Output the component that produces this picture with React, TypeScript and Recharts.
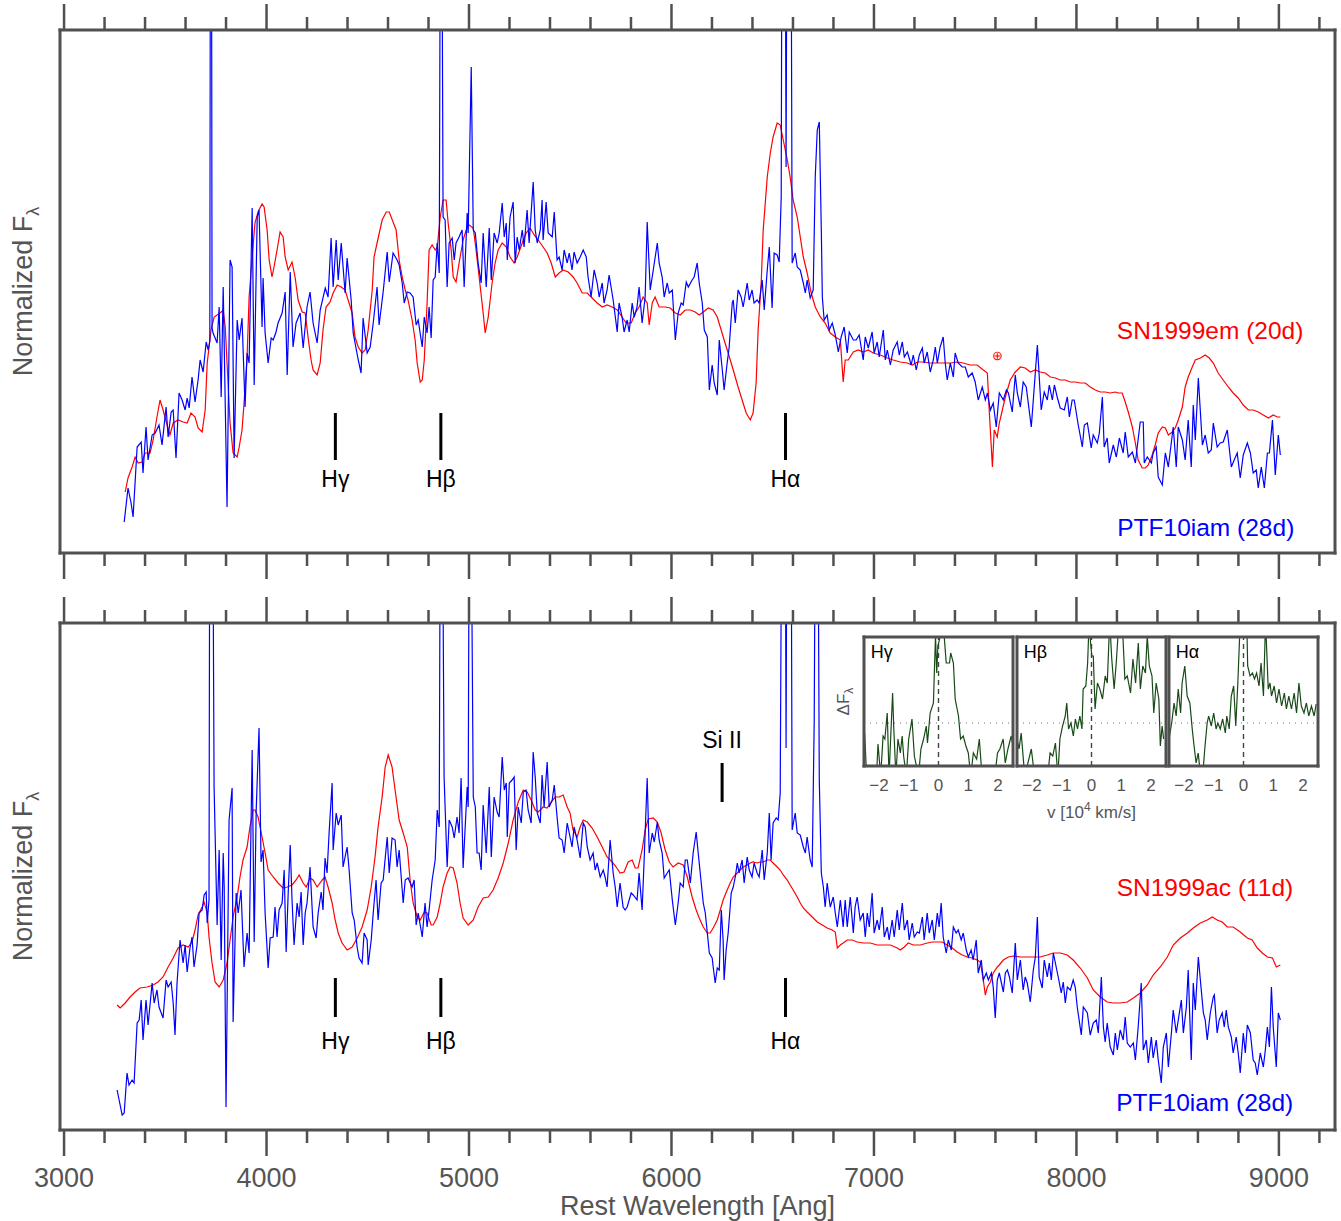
import React from 'react'
import { LineChart, Line, XAxis, YAxis, ReferenceLine, ReferenceDot } from 'recharts'

// wavelength [Ang] vs normalized flux (arbitrary units)
const ptfTop: [number, number][] = [
  [3297,31],[3316,65],[3331,50],[3341,36],[3361,106],[3381,111],[3390,80],[3405,126],[3415,93],[3435,118],[3450,120],[3469,128],[3484,108],[3504,146],[3514,116],[3529,141],[3539,143],[3553,95],[3568,160],[3583,153],[3598,143],[3608,155],[3618,145],[3632,176],[3647,151],[3662,173],[3672,193],[3687,181],[3702,211],[3712,203],[3720,212],[3723,700],[3728,700],[3731,225],[3736,220],[3756,210],[3766,246],[3776,156],[3786,266],[3805,46],[3820,293],[3830,286],[3840,95],[3855,233],[3865,213],[3879,235],[3894,146],[3904,200],[3914,190],[3929,345],[3939,168],[3954,336],[3963,343],[3978,226],[3983,275],[3993,220],[4008,190],[4023,215],[4033,213],[4047,221],[4057,230],[4077,240],[4092,261],[4102,178],[4117,281],[4131,206],[4146,230],[4166,240],[4181,205],[4200,246],[4215,261],[4230,230],[4250,210],[4265,243],[4290,265],[4304,256],[4319,315],[4329,266],[4344,313],[4354,273],[4369,310],[4388,260],[4398,295],[4418,253],[4428,220],[4453,193],[4467,180],[4477,235],[4497,200],[4512,206],[4527,230],[4546,266],[4556,228],[4576,261],[4596,301],[4606,271],[4625,300],[4645,293],[4655,288],
  [4670,270],[4680,250],[4695,261],[4709,260],[4724,256],[4739,228],[4749,233],[4769,206],[4779,236],[4793,220],[4803,246],[4813,215],[4823,273],[4833,276],[4843,310],[4853,280],[4859,700],[4865,700],[4872,336],[4882,333],[4892,266],[4902,310],[4917,315],[4927,293],[4936,310],[4951,316],[4966,323],[4976,266],[4991,340],[4996,320],[5011,486],[5021,323],[5031,320],[5045,290],[5060,270],[5070,320],[5085,266],[5100,325],[5110,273],[5124,320],[5139,310],[5149,320],[5164,350],[5174,316],[5184,330],[5189,293],[5203,336],[5218,351],[5228,290],[5238,316],[5248,303],[5263,323],[5272,306],[5287,343],[5297,310],[5317,371],[5327,323],[5337,310],[5352,323],[5361,353],[5366,313],[5381,351],[5391,320],[5411,316],[5421,341],[5435,293],[5445,296],[5460,283],[5470,303],[5485,290],[5495,300],[5509,283],[5519,301],[5534,290],[5549,296],[5564,303],[5579,296],[5588,276],[5603,256],[5618,283],[5633,270],[5643,256],[5658,270],[5667,250],[5682,263],[5692,278],[5712,253],[5732,221],[5741,250],[5756,236],[5766,221],[5781,233],[5791,221],[5806,250],[5816,236],[5830,246],[5840,266],[5855,230],[5870,256],[5880,331],[5895,263],[5910,283],[5930,310],[5939,290],[5954,276],[5964,256],[5979,270],[5989,260],[6004,263],[6019,213],[6033,240],[6048,250],[6058,248],[6073,271],[6083,266],[6102,273],[6112,276],[6127,290],[6137,270],
  [6152,250],[6162,223],[6177,216],[6187,163],[6201,188],[6211,170],[6226,158],[6236,213],[6251,183],[6260,163],[6275,190],[6285,206],[6300,250],[6305,253],[6315,230],[6329,263],[6344,256],[6354,246],[6374,270],[6384,253],[6398,263],[6408,250],[6423,253],[6433,250],[6448,273],[6458,243],[6473,283],[6483,306],[6497,245],[6507,300],[6522,298],[6532,291],[6542,356],[6546,700],[6561,700],[6566,386],[6571,700],[6590,700],[6596,290],[6611,300],[6621,286],[6636,283],[6651,270],[6661,260],[6670,273],[6685,255],[6700,263],[6710,376],[6720,423],[6730,431],[6740,323],[6745,256],[6754,233],[6769,238],[6779,223],[6794,230],[6809,218],[6824,201],[6838,216],[6853,226],[6868,200],[6878,221],[6898,213],[6912,213],[6927,218],[6947,193],[6957,216],[6972,205],[6991,221],[7001,200],[7016,211],[7026,196],[7046,223],[7056,193],[7066,203],[7081,188],[7095,203],[7115,211],[7125,198],[7140,211],[7150,196],[7165,201],[7184,188],[7194,198],[7209,183],[7224,198],[7239,205],[7248,190],[7263,201],[7278,181],[7293,193],[7303,206],[7313,190],[7327,206],[7342,216],[7352,190],[7362,173],[7377,190],[7392,176],[7401,200],[7416,190],[7436,186],[7451,186],[7466,176],[7485,180],[7500,171],[7515,153],[7535,166],[7550,153],[7560,160],[7575,143],[7589,150],[7604,126],[7619,160],
  [7639,153],[7654,163],[7664,160],[7683,141],[7698,178],[7708,160],[7723,146],[7737,171],[7752,166],[7777,126],[7787,153],[7807,208],[7826,143],[7841,161],[7856,153],[7866,168],[7881,153],[7891,168],[7905,156],[7920,145],[7940,143],[7955,156],[7965,136],[7979,153],[7989,153],[8009,128],[8029,106],[8039,128],[8054,130],[8073,105],[8083,118],[8103,110],[8113,120],[8128,156],[8137,106],[8152,115],[8162,90],[8182,108],[8197,96],[8212,115],[8231,100],[8241,121],[8256,96],[8276,101],[8291,90],[8315,131],[8330,131],[8335,90],[8350,96],[8370,90],[8379,100],[8394,106],[8404,76],[8424,68],[8439,100],[8454,86],[8478,126],[8493,86],[8503,126],[8523,113],[8537,93],[8552,133],[8567,86],[8577,148],[8587,113],[8602,175],[8622,108],[8636,118],[8651,100],[8666,103],[8676,130],[8695,106],[8710,110],[8725,111],[8745,123],[8765,86],[8779,93],[8794,100],[8809,75],[8824,98],[8844,110],[8859,100],[8873,80],[8888,83],[8898,65],[8913,86],[8928,65],[8943,100],[8953,100],[8968,133],[8982,78],[8997,118],[9007,98],
]

const sn1999em: [number, number][] = [
  [3302,61],[3316,75],[3336,86],[3351,96],[3366,90],[3385,91],[3400,100],[3425,100],[3440,113],[3459,136],[3474,153],[3489,143],[3509,128],[3523,118],[3539,130],[3563,133],[3588,131],[3608,130],[3627,140],[3647,136],[3662,125],[3682,121],[3697,143],[3707,190],[3726,223],[3741,236],[3756,238],[3776,241],[3786,243],[3796,226],[3805,190],[3820,130],[3835,100],[3855,96],[3865,106],[3879,123],[3889,150],[3904,196],[3914,256],[3929,296],[3943,330],[3958,341],[3978,349],[3988,346],[4003,323],[4013,293],[4027,276],[4037,286],[4052,303],[4067,321],[4082,316],[4092,296],[4107,283],[4126,291],[4141,276],[4156,253],[4176,241],[4191,240],[4205,216],[4220,193],[4230,183],[4250,178],[4265,190],[4279,223],[4294,246],[4314,251],[4329,260],[4349,268],[4369,266],[4388,263],[4403,253],[4423,240],[4437,216],[4453,206],[4472,200],[4487,203],[4502,223],[4522,263],[4531,296],[4546,310],[4571,333],[4591,341],[4606,341],[4625,331],[4640,323],[4655,293],
  [4670,276],[4685,263],[4699,253],[4719,233],[4734,213],[4744,190],[4759,171],[4769,173],[4779,193],[4793,250],[4803,303],[4818,308],[4833,303],[4843,306],[4858,336],[4872,353],[4887,353],[4897,330],[4912,303],[4922,276],[4936,271],[4951,290],[4971,313],[4986,323],[5001,328],[5021,325],[5035,303],[5050,276],[5070,240],[5080,220],[5095,236],[5114,270],[5129,290],[5144,303],[5164,310],[5184,306],[5203,296],[5223,290],[5238,296],[5263,310],[5282,320],[5302,325],[5322,318],[5342,313],[5366,306],[5386,300],[5406,290],[5426,276],[5445,280],[5465,283],[5490,281],[5514,276],[5534,270],[5559,260],[5584,260],[5608,255],[5633,250],[5658,246],[5682,248],[5707,246],[5732,243],[5756,236],[5776,230],[5801,230],[5821,240],[5840,246],[5860,256],[5880,250],[5890,228],[5905,250],[5919,256],[5939,246],[5969,246],[5994,245],[6019,240],[6043,238],[6068,243],[6093,243],[6117,241],[6137,238],
  [6157,241],[6182,245],[6206,243],[6226,236],[6241,226],[6260,213],[6280,200],[6305,183],[6329,166],[6349,153],[6369,140],[6389,133],[6403,140],[6418,170],[6428,223],[6443,270],[6453,323],[6473,376],[6488,400],[6502,416],[6522,430],[6537,428],[6552,413],[6572,393],[6586,376],[6601,353],[6621,336],[6636,316],[6651,296],[6670,280],[6690,260],[6710,246],[6735,236],[6759,230],[6784,220],[6809,216],[6834,213],[6848,171],[6858,193],[6873,193],[6898,201],[6922,203],[6947,201],[6972,203],[6996,200],[7031,198],[7066,195],[7095,193],[7130,191],[7165,190],[7189,188],[7214,191],[7243,191],[7278,190],[7313,190],[7342,190],[7377,190],[7411,191],[7441,190],[7475,188],[7510,188],[7540,183],[7560,180],[7570,140],[7585,86],[7594,123],[7609,116],[7619,130],
  [7649,156],[7673,173],[7698,181],[7723,186],[7747,185],[7772,181],[7797,183],[7821,181],[7846,180],[7871,176],[7896,175],[7920,173],[7945,173],[7970,171],[7994,171],[8019,170],[8044,170],[8068,166],[8093,163],[8118,161],[8142,161],[8167,160],[8192,161],[8207,160],[8226,160],[8241,151],[8256,141],[8276,126],[8291,110],[8305,93],[8325,85],[8340,85],[8355,88],[8374,98],[8389,108],[8404,120],[8424,126],[8439,125],[8454,118],[8473,121],[8488,125],[8503,133],[8523,146],[8537,166],[8552,176],[8572,186],[8587,193],[8612,195],[8636,198],[8656,195],[8676,190],[8700,180],[8725,173],[8750,166],[8774,160],[8799,155],[8824,148],[8849,143],[8873,143],[8898,141],[8923,138],[8948,135],[8972,138],[8992,136],[9007,136],
]

const ptfBottom: [number, number][] = [
  [3262,40],[3272,30],[3287,15],[3297,17],[3311,57],[3321,45],[3336,50],[3346,47],[3361,107],[3371,110],[3381,130],[3390,90],[3405,130],[3415,105],[3435,147],[3445,127],[3459,140],[3469,123],[3489,112],[3504,150],[3514,143],[3529,148],[3539,127],[3548,95],[3558,147],[3573,190],[3588,167],[3598,185],[3608,158],[3622,182],[3632,193],[3642,163],[3657,185],[3667,217],[3682,220],[3692,235],[3702,238],[3707,207],[3716,230],[3720,700],[3733,700],[3741,343],[3756,205],[3766,280],[3776,170],[3786,277],[3791,243],[3800,23],[3815,310],[3830,342],[3835,108],[3850,237],[3860,217],[3874,240],[3889,163],[3904,197],[3914,177],[3929,380],[3939,188],[3949,320],[3963,402],[3973,268],[3983,280],[3993,217],[4008,162],[4018,192],[4033,193],[4042,223],[4052,193],[4062,220],[4077,227],[4087,260],[4097,178],[4107,237],[4117,285],[4126,230],[4136,185],[4151,227],[4161,213],[4171,238],[4181,185],[4191,217],[4200,227],[4215,263],[4230,203],[4245,192],[4255,217],[4270,238],[4279,220],[4289,272],[4299,257],[4309,297],[4324,347],[4329,280],[4344,317],[4354,305],[4369,315],[4378,263],[4398,283],[4408,260],[4423,217],[4433,210],[4448,182],[4457,172],[4472,167],[4482,197],[4497,190],[4502,165],[4517,190],[4527,217],[4541,250],[4551,210],[4566,247],[4576,250],[4596,293],[4606,257],[4620,292],[4635,290],[4645,263],[4655,280],
  [4675,227],[4685,250],[4699,252],[4719,243],[4729,250],[4739,205],[4749,217],[4769,193],[4783,227],[4793,203],[4803,220],[4818,250],[4833,270],[4843,320],[4853,303],[4859,700],[4867,700],[4877,353],[4892,263],[4902,310],[4917,303],[4927,292],[4941,313],[4951,297],[4961,352],[4971,262],[4991,343],[4996,323],[5002,700],[5008,700],[5021,333],[5031,323],[5040,277],[5050,277],[5060,260],[5070,325],[5085,277],[5100,343],[5110,273],[5124,333],[5139,318],[5149,313],[5164,373],[5174,340],[5184,347],[5189,293],[5199,347],[5213,350],[5223,353],[5233,280],[5243,323],[5258,307],[5268,338],[5282,340],[5292,320],[5307,307],[5317,378],[5327,353],[5337,317],[5352,307],[5361,355],[5371,323],[5386,368],[5396,323],[5411,330],[5421,345],[5435,313],[5445,292],[5460,290],[5470,277],[5485,307],[5495,297],[5509,283],[5519,303],[5534,290],[5549,272],[5564,307],[5574,303],[5584,283],[5598,270],[5613,277],[5623,260],[5633,267],[5648,253],[5663,260],[5672,253],[5682,243],[5697,290],[5712,257],[5722,243],[5732,223],[5746,247],[5761,223],[5771,220],[5781,223],[5801,237],[5811,235],[5830,230],[5840,257],[5855,220],[5865,270],[5880,352],[5890,277],[5905,297],[5915,288],[5930,308],[5939,290],[5954,277],[5964,252],[5979,257],[5989,260],[6004,230],[6019,205],[6033,227],[6043,247],[6058,243],[6068,270],[6078,270],[6093,247],[6107,277],[6122,298],[6132,277],
  [6142,257],[6157,227],[6167,217],[6177,197],[6187,177],[6201,172],[6206,163],[6216,147],[6226,162],[6236,160],[6246,220],[6255,190],[6260,150],[6270,180],[6280,197],[6295,237],[6305,243],[6315,253],[6325,267],[6334,257],[6349,270],[6359,247],[6374,273],[6384,260],[6398,253],[6408,267],[6423,257],[6433,253],[6448,280],[6458,250],[6473,277],[6483,317],[6492,270],[6502,307],[6517,312],[6527,310],[6537,337],[6546,700],[6561,700],[6566,382],[6571,700],[6590,700],[6596,300],[6611,317],[6621,297],[6636,295],[6651,283],[6661,277],[6670,293],[6685,270],[6695,263],[6705,410],[6712,700],[6722,700],[6730,350],[6740,257],[6750,243],[6759,223],[6769,247],[6784,223],[6799,233],[6809,217],[6819,203],[6834,230],[6848,203],[6858,230],[6868,203],[6883,233],[6898,197],[6907,223],[6917,233],[6932,210],[6947,217],[6957,193],[6967,217],[6977,203],[6991,237],[7001,197],[7016,210],[7026,200],[7041,223],[7051,193],[7066,203],[7075,190],[7090,210],[7100,193],[7115,220],[7125,200],[7140,227],[7150,200],[7165,210],[7174,190],[7189,207],[7199,193],[7214,198],[7224,197],[7239,213],[7248,190],[7263,217],[7273,197],[7288,210],[7298,190],[7313,217],[7322,203],[7332,227],[7342,193],[7357,177],[7367,190],[7382,180],[7392,203],[7406,197],[7416,200],[7431,190],[7441,197],[7456,180],[7466,173],[7480,180],[7490,170],[7505,190],[7515,157],[7530,170],[7540,150],[7555,157],[7565,150],[7580,157],[7589,143],[7599,112],[7609,150],[7619,157],
  [7639,138],[7649,157],[7659,160],[7669,153],[7683,137],[7698,187],[7708,150],[7723,170],[7737,140],[7747,153],[7757,147],[7772,128],[7787,160],[7797,173],[7807,213],[7816,153],[7831,142],[7841,170],[7856,153],[7866,167],[7876,150],[7886,177],[7900,163],[7910,153],[7925,137],[7935,148],[7945,127],[7955,143],[7970,140],[7984,150],[7994,143],[8004,123],[8024,95],[8034,123],[8054,117],[8068,95],[8083,107],[8098,110],[8108,97],[8123,153],[8133,103],[8142,88],[8152,107],[8167,83],[8182,75],[8192,97],[8202,80],[8216,100],[8231,90],[8241,113],[8251,87],[8266,83],[8281,87],[8291,70],[8305,103],[8320,147],[8330,80],[8345,90],[8355,67],[8370,93],[8379,72],[8394,90],[8404,70],[8419,47],[8429,83],[8444,97],[8454,63],[8469,97],[8478,120],[8493,97],[8503,110],[8518,130],[8528,97],[8543,123],[8552,160],[8567,70],[8577,147],[8587,120],[8602,173],[8612,150],[8627,117],[8636,110],[8646,90],[8661,117],[8676,133],[8681,135],[8695,97],[8705,110],[8720,117],[8730,103],[8740,120],[8750,103],[8765,93],[8774,77],[8789,93],[8799,77],[8809,57],[8824,97],[8834,77],[8844,105],[8859,97],[8873,70],[8883,67],[8893,55],[8908,77],[8923,63],[8933,80],[8943,103],[8953,83],[8963,143],[8972,103],[8987,63],[8997,117],[9007,110],
]

const sn1999ac: [number, number][] = [
  [3262,125],[3277,122],[3302,127],[3326,133],[3351,138],[3375,142],[3410,143],[3440,145],[3464,148],[3489,153],[3514,163],[3539,172],[3563,182],[3588,185],[3613,183],[3632,188],[3647,200],[3662,215],[3682,223],[3692,228],[3707,217],[3716,193],[3731,167],[3746,148],[3766,143],[3786,150],[3805,167],[3820,190],[3835,213],[3855,233],[3869,253],[3884,270],[3904,283],[3918,303],[3934,320],[3943,320],[3958,313],[3978,293],[3993,277],[4008,260],[4033,253],[4057,247],[4082,242],[4102,243],[4126,245],[4146,250],[4161,255],[4181,247],[4196,243],[4215,252],[4230,250],[4250,243],[4275,250],[4289,253],[4304,243],[4324,227],[4339,210],[4354,197],[4373,187],[4398,180],[4423,183],[4448,192],[4472,203],[4497,220],[4517,243],[4536,273],[4551,303],[4571,333],[4586,363],[4601,375],[4620,363],[4635,340],[4655,310],
  [4675,297],[4695,283],[4709,250],[4724,227],[4744,213],[4759,210],[4779,218],[4793,217],[4813,205],[4823,205],[4843,213],[4858,227],[4872,243],[4892,257],[4907,263],[4922,262],[4941,247],[4956,227],[4971,212],[4996,205],[5021,210],[5045,223],[5070,232],[5095,233],[5119,240],[5144,252],[5169,267],[5194,287],[5218,310],[5243,328],[5268,340],[5287,338],[5307,330],[5327,320],[5342,318],[5366,323],[5386,322],[5406,328],[5426,333],[5445,333],[5465,335],[5485,323],[5499,317],[5514,300],[5534,293],[5549,303],[5564,310],[5584,308],[5608,302],[5633,293],[5658,283],[5682,273],[5707,268],[5727,263],[5746,257],[5766,258],[5786,268],[5806,270],[5821,262],[5835,262],[5855,280],[5870,300],[5885,311],[5910,312],[5930,308],[5949,297],[5969,280],[5989,268],[6008,263],[6033,267],[6058,265],[6078,253],[6102,233],[6122,220],[6137,212],
  [6157,203],[6177,197],[6191,197],[6206,202],[6226,210],[6241,220],[6255,230],[6275,240],[6290,247],[6305,253],[6325,257],[6339,260],[6354,263],[6374,265],[6389,267],[6403,268],[6423,267],[6438,268],[6453,268],[6473,270],[6488,270],[6502,267],[6522,263],[6537,260],[6552,255],[6572,250],[6586,245],[6601,240],[6621,233],[6636,227],[6651,222],[6670,218],[6695,213],[6720,208],[6745,205],[6769,202],[6794,200],[6809,198],[6819,182],[6834,185],[6848,187],[6868,190],[6893,190],[6917,188],[6947,187],[6982,187],[7016,185],[7046,185],[7081,185],[7115,182],[7130,180],[7150,183],[7169,187],[7194,185],[7229,185],[7263,187],[7288,188],[7313,188],[7337,188],[7362,185],[7387,182],[7411,178],[7436,175],[7461,173],[7485,172],[7510,170],[7525,168],[7540,150],[7550,135],[7560,143],[7575,148],[7589,157],[7609,163],[7619,165],
  [7639,170],[7664,173],[7688,174],[7723,173],[7757,173],[7787,173],[7821,173],[7856,175],[7886,177],[7920,177],[7955,175],[7984,170],[8019,162],[8054,152],[8083,140],[8118,133],[8152,128],[8182,127],[8216,127],[8251,128],[8281,132],[8315,137],[8350,145],[8379,155],[8414,163],[8449,173],[8478,185],[8513,192],[8548,197],[8577,202],[8612,207],[8646,210],[8671,213],[8695,210],[8720,208],[8745,203],[8774,203],[8809,198],[8844,192],[8868,190],[8893,182],[8918,177],[8943,173],[8968,172],[8987,163],[9007,165],
]

// inset: residual flux vs velocity [10^4 km/s]
const insetHg: [number, number][] = [
  [-2.48,33],[-2.41,-10],[-2.08,-10],[-2.03,22],[-1.94,-10],[-1.86,30],[-1.8,27],[-1.72,53],[-1.66,-10],[-1.54,73],[-1.5,37],[-1.43,-10],[-1.36,27],[-1.28,13],[-1.22,30],[-1.17,10],[-1.08,-10],[-1.0,27],[-0.89,47],[-0.81,10],[-0.67,-10],[-0.59,17],[-0.5,27],[-0.41,40],[-0.37,23],[-0.28,53],[-0.17,63],[-0.13,103],[-0.1,130],[-0.06,93],[-0.02,120],[0.06,130],[0.11,145],[0.19,130],[0.26,103],[0.37,103],[0.41,113],[0.5,103],[0.56,67],[0.67,50],[0.74,27],[0.83,30],[0.92,20],[1.0,13],[1.08,-10],[1.17,13],[1.28,7],[1.37,27],[1.46,-10],[1.89,-10],[1.98,13],[2.06,17],[2.17,27],[2.24,3],[2.33,17],[2.44,30],[2.5,20],
]
const insetHb: [number, number][] = [
  [-2.5,27],[-2.43,17],[-2.36,33],[-2.24,-10],[-2.02,17],[-1.91,-10],[-1.47,-10],[-1.39,13],[-1.3,10],[-1.21,23],[-1.13,-10],[-1.06,27],[-0.97,40],[-0.88,50],[-0.83,63],[-0.77,37],[-0.69,43],[-0.61,30],[-0.54,47],[-0.47,37],[-0.39,50],[-0.32,37],[-0.28,77],[-0.19,80],[-0.13,103],[-0.08,145],[-0.03,123],[0.01,110],[0.06,110],[0.12,57],[0.2,83],[0.28,77],[0.37,67],[0.46,90],[0.53,83],[0.61,145],[0.68,107],[0.76,77],[0.83,103],[0.92,145],[1.03,145],[1.12,87],[1.2,90],[1.31,73],[1.39,107],[1.48,83],[1.57,123],[1.64,77],[1.72,100],[1.81,93],[1.87,130],[1.94,100],[2.03,90],[2.09,53],[2.17,83],[2.26,67],[2.31,20],[2.37,40],[2.42,27],
]
const insetHa: [number, number][] = [
  [-2.5,27],[-2.41,43],[-2.33,63],[-2.26,50],[-2.19,77],[-2.11,53],[-2.06,83],[-1.97,100],[-1.89,70],[-1.8,63],[-1.72,37],[-1.67,23],[-1.59,3],[-1.52,13],[-1.44,-10],[-1.37,-10],[-1.3,17],[-1.22,43],[-1.17,50],[-1.08,40],[-1.0,53],[-0.92,37],[-0.86,43],[-0.78,37],[-0.7,47],[-0.61,33],[-0.56,50],[-0.48,37],[-0.41,70],[-0.33,80],[-0.26,40],[-0.19,83],[-0.11,145],[0.11,145],[0.14,100],[0.22,90],[0.3,93],[0.37,87],[0.44,93],[0.52,80],[0.59,103],[0.67,70],[0.74,145],[0.83,77],[0.89,83],[0.94,70],[1.03,80],[1.11,63],[1.19,77],[1.28,60],[1.37,73],[1.44,57],[1.52,70],[1.61,57],[1.7,73],[1.78,53],[1.86,83],[1.94,60],[2.03,53],[2.11,63],[2.19,50],[2.28,60],[2.37,50],[2.44,62],
]

const wavelengthTicks = [3000, 3200, 3400, 3600, 3800, 4000, 4200, 4400, 4600, 4800, 5000, 5200, 5400, 5600, 5800, 6000, 6200, 6400, 6600, 6800, 7000, 7200, 7400, 7600, 7800, 8000, 8200, 8400, 8600, 8800, 9000, 9200]
const velocityTicks = [-2, -1, 0, 1, 2]

const FONT = '"Liberation Sans", Arial, Helvetica, sans-serif'
const FRAME = '#505050'
const GREY = '#555555'
const RED = '#ff0000'
const BLUE = '#0000ff'
const GREEN = '#174a17'
const X_DOMAIN = [2980, 9277]
const axisStyle = { stroke: FRAME, strokeWidth: 3, strokeLinecap: 'square' as const }

const toPoints = (arr: [number, number][]) => arr.map(([w, f]) => ({ w, f }))

function makeTick(side: 'top' | 'bottom', withLabels: boolean) {
  return (props: any) => {
    const { x, y, payload } = props
    const major = payload.value % 1000 === 0
    const len = major ? 26 : 13
    const dir = side === 'top' ? -1 : 1
    return (
      <g>
        <line x1={x} x2={x} y1={y} y2={y + dir * len} stroke={FRAME} strokeWidth={2.5} />
        {withLabels && major && (
          <text x={x} y={y + 57} textAnchor="middle" fontSize={27} fill={GREY} fontFamily={FONT}>
            {payload.value}
          </text>
        )}
      </g>
    )
  }
}

const YTitle = (props: any) => {
  const vb = props.viewBox
  const cy = vb.y + vb.height / 2
  return (
    <text x={23} y={cy} transform={`rotate(-90 23 ${cy})`} textAnchor="middle" dominantBaseline="central"
      fontSize={27} fill={GREY} fontFamily={FONT}>
      Normalized F<tspan fontSize={18} dy={10}>λ</tspan>
    </text>
  )
}

function frameAxes(yMax: number, bottomHeight: number, labels: boolean) {
  return [
    <XAxis key="xt" xAxisId="t" orientation="top" type="number" dataKey="w" domain={X_DOMAIN} allowDataOverflow
      ticks={wavelengthTicks} interval={0} height={30} tickSize={0} tickMargin={0} tickLine={false}
      tick={makeTick('top', false)} axisLine={axisStyle} />,
    <XAxis key="xb" xAxisId="b" orientation="bottom" type="number" dataKey="w" domain={X_DOMAIN} allowDataOverflow
      ticks={wavelengthTicks} interval={0} height={bottomHeight} tickSize={0} tickMargin={0} tickLine={false}
      tick={makeTick('bottom', labels)} axisLine={axisStyle}
      label={labels ? { value: 'Rest Wavelength [Ang]', position: 'insideBottom', offset: 6, fill: GREY, fontSize: 27, fontFamily: FONT } : undefined} />,
    <YAxis key="yl" yAxisId="l" type="number" domain={[0, yMax]} allowDataOverflow width={1}
      tick={false} tickLine={false} axisLine={axisStyle} label={<YTitle />} />,
    <YAxis key="yr" yAxisId="r" orientation="right" type="number" domain={[0, yMax]} width={1}
      tick={false} tickLine={false} axisLine={axisStyle} />,
  ]
}

function lineMark(key: string, w: number, y1: number, y2: number, labelY: number, text: string) {
  return [
    <ReferenceLine key={key + 'l'} xAxisId="b" yAxisId="l" segment={[{ x: w, y: y1 }, { x: w, y: y2 }]}
      stroke="#000" strokeWidth={3} />,
    <ReferenceDot key={key + 't'} xAxisId="b" yAxisId="l" x={w} y={labelY} r={0} fill="none" stroke="none"
      label={{ value: text, position: 'center', fill: '#000', fontSize: 23, fontFamily: FONT }} />,
  ]
}

function seriesName(key: string, w: number, y: number, text: string, color: string) {
  return (
    <ReferenceDot key={key} xAxisId="b" yAxisId="l" x={w} y={y} r={0} fill="none" stroke="none"
      label={{ value: text, position: 'left', offset: 0, fill: color, fontSize: 24.5, fontFamily: FONT }} />
  )
}

const INSET_W = 149
const INSET_H = 129

const insetTick = (props: any) => {
  const v = props.payload.value
  return (
    <text x={props.x} y={props.y + 25} textAnchor="middle" fontSize={17} fill={GREY} fontFamily={FONT}>
      {v < 0 ? '\u2212' + Math.abs(v) : String(v)}
    </text>
  )
}

const InsetXTitle = (props: any) => {
  const vb = props.viewBox
  return (
    <text x={vb.x + vb.width / 2} y={vb.y + 52} textAnchor="middle" fontSize={17} fill={GREY} fontFamily={FONT}>
      v [10<tspan fontSize={12} dy={-7}>4</tspan><tspan dy={7}> km/s]</tspan>
    </text>
  )
}

const InsetYTitle = (props: any) => {
  const vb = props.viewBox
  const cx = vb.x - 20
  const cy = vb.y + vb.height / 2
  return (
    <text x={cx} y={cy} transform={`rotate(-90 ${cx} ${cy})`} textAnchor="middle" dominantBaseline="central"
      fontSize={17} fill={GREY} fontFamily={FONT}>
      ΔF<tspan fontSize={12} dy={6}>λ</tspan>
    </text>
  )
}

function InsetPanel({ data, left, name, showY, showTitle }: any) {
  const ml = showY ? 40 : 2
  const points = data.map(([v, f]: [number, number]) => ({ v, f }))
  return (
    <div style={{ position: 'absolute', left: left - ml, top: 629 }}>
      <LineChart width={ml + INSET_W + 3} height={8 + INSET_H + 60} data={points}
        margin={{ top: 0, right: 2, bottom: 0, left: ml - 1 }}>
        <XAxis xAxisId="t" orientation="top" type="number" dataKey="v" domain={[-2.5, 2.5]} allowDataOverflow
          ticks={velocityTicks} interval={0} height={8} tickSize={3} tick={false}
          tickLine={{ stroke: FRAME, strokeWidth: 2 }} axisLine={axisStyle} />
        <XAxis xAxisId="b" orientation="bottom" type="number" dataKey="v" domain={[-2.5, 2.5]} allowDataOverflow
          ticks={velocityTicks} interval={0} height={60} tickSize={0} tickMargin={0} tickLine={false}
          tick={insetTick} axisLine={axisStyle} label={showTitle ? <InsetXTitle /> : undefined} />
        <YAxis yAxisId="l" type="number" domain={[0, INSET_H]} allowDataOverflow width={1} tick={false}
          tickLine={false} axisLine={axisStyle} label={showY ? <InsetYTitle /> : undefined} />
        <YAxis yAxisId="r" orientation="right" type="number" domain={[0, INSET_H]} width={1} tick={false}
          tickLine={false} axisLine={axisStyle} />
        <ReferenceLine xAxisId="b" yAxisId="l" y={43} stroke="#777" strokeDasharray="1 5" strokeWidth={1.2} />
        <ReferenceLine xAxisId="b" yAxisId="l" x={0} stroke="#444" strokeDasharray="5 4" strokeWidth={1.4} />
        <Line xAxisId="b" yAxisId="l" type="linear" dataKey="f" stroke={GREEN} strokeWidth={1.2}
          dot={false} isAnimationActive={false} />
        <ReferenceDot xAxisId="b" yAxisId="l" x={-2.27} y={114} r={0} fill="none" stroke="none"
          label={{ value: name, position: 'right', offset: 0, fill: '#000', fontSize: 18, fontFamily: FONT }} />
      </LineChart>
    </div>
  )
}

export default function App() {
  return (
    <div style={{ position: 'relative', width: 1341, height: 1221, background: '#fff' }}>
      <style>{'body{margin:0}'}</style>

      <div style={{ position: 'absolute', left: 0, top: 0 }}>
        <LineChart width={1341} height={600} margin={{ top: 0, right: 5, bottom: 17, left: 59 }}>
          {frameAxes(523, 30, false)}
          <Line xAxisId="b" yAxisId="l" data={toPoints(sn1999em)} dataKey="f" type="linear" stroke={RED}
            strokeWidth={1.2} dot={false} isAnimationActive={false} />
          <Line xAxisId="b" yAxisId="l" data={toPoints(ptfTop)} dataKey="f" type="linear" stroke={BLUE}
            strokeWidth={1.2} dot={false} isAnimationActive={false} />
          {lineMark('hg', 4340, 93, 140, 74, 'Hγ')}
          {lineMark('hb', 4861, 93, 140, 74, 'Hβ')}
          {lineMark('ha', 6563, 93, 140, 74, 'Hα')}
          <ReferenceDot xAxisId="b" yAxisId="l" x={7609} y={198} r={0} fill="none" stroke="none"
            label={{ value: '⊕', position: 'center', fill: RED, fontSize: 13, fontFamily: FONT }} />
          {seriesName('n1', 9121, 223, 'SN1999em (20d)', RED)}
          {seriesName('n2', 9076, 26, 'PTF10iam (28d)', BLUE)}
        </LineChart>
      </div>

      <div style={{ position: 'absolute', left: 0, top: 593 }}>
        <LineChart width={1341} height={628} margin={{ top: 0, right: 5, bottom: 0, left: 59 }}>
          {frameAxes(507, 91, true)}
          <Line xAxisId="b" yAxisId="l" data={toPoints(sn1999ac)} dataKey="f" type="linear" stroke={RED}
            strokeWidth={1.2} dot={false} isAnimationActive={false} />
          <Line xAxisId="b" yAxisId="l" data={toPoints(ptfBottom)} dataKey="f" type="linear" stroke={BLUE}
            strokeWidth={1.2} dot={false} isAnimationActive={false} />
          {lineMark('hg', 4340, 113, 152, 89, 'Hγ')}
          {lineMark('hb', 4861, 113, 152, 89, 'Hβ')}
          {lineMark('ha', 6563, 113, 152, 89, 'Hα')}
          {lineMark('si', 6250, 328, 367, 390, 'Si II')}
          {seriesName('n1', 9071, 243, 'SN1999ac (11d)', RED)}
          {seriesName('n2', 9071, 28, 'PTF10iam (28d)', BLUE)}
        </LineChart>
      </div>

      <InsetPanel data={insetHg} left={864} name="Hγ" showY showTitle={false} />
      <InsetPanel data={insetHb} left={1017} name="Hβ" showY={false} showTitle />
      <InsetPanel data={insetHa} left={1169} name="Hα" showY={false} showTitle={false} />
    </div>
  )
}
